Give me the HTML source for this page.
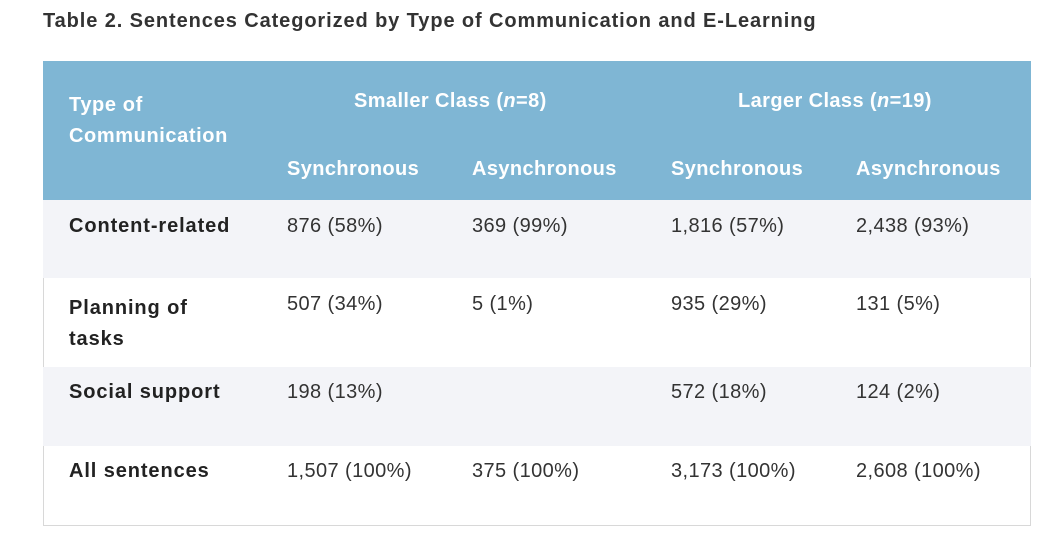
<!DOCTYPE html>
<html><head><meta charset="utf-8"><style>
body{margin:0;width:1060px;height:542px;background:#fff;font-family:"Liberation Sans",sans-serif;position:relative;overflow:hidden}
.a{position:absolute;white-space:nowrap;line-height:22px;font-size:20px;letter-spacing:0.4px}
.h{color:#fff;font-weight:bold}
.b{color:#333}
.l{color:#222;font-weight:bold;letter-spacing:0.9px}
.bg{position:absolute;left:43px;width:988px}
</style></head><body>
<div class="a" style="left:43px;top:10px;font-weight:bold;color:#333;font-size:20px;letter-spacing:0.9px">Table 2. Sentences Categorized by Type of Communication and E-Learning</div>
<div style="position:absolute;left:43px;top:61px;width:986px;height:463px;border:1px solid #d8d8d8"></div>
<div class="bg" style="top:61px;height:139px;background:#7fb6d4"></div>
<div class="bg" style="top:200px;height:78px;background:#f3f4f8"></div>
<div class="bg" style="top:367px;height:79px;background:#f3f4f8"></div>

<div class="a h" style="left:69px;top:90px;line-height:31px;letter-spacing:0.6px">Type of<br>Communication</div>
<div class="a h" style="left:354px;top:90px">Smaller Class (<i>n</i>=8)</div>
<div class="a h" style="left:738px;top:90px">Larger Class (<i>n</i>=19)</div>
<div class="a h" style="left:287px;top:158px">Synchronous</div>
<div class="a h" style="left:472px;top:158px">Asynchronous</div>
<div class="a h" style="left:671px;top:158px">Synchronous</div>
<div class="a h" style="left:856px;top:158px">Asynchronous</div>

<div class="a l" style="left:69px;top:215px">Content-related</div>
<div class="a b" style="left:287px;top:215px">876 (58%)</div>
<div class="a b" style="left:472px;top:215px">369 (99%)</div>
<div class="a b" style="left:671px;top:215px">1,816 (57%)</div>
<div class="a b" style="left:856px;top:215px">2,438 (93%)</div>

<div class="a l" style="left:69px;top:293px;line-height:31px">Planning of<br>tasks</div>
<div class="a b" style="left:287px;top:293px">507 (34%)</div>
<div class="a b" style="left:472px;top:293px">5 (1%)</div>
<div class="a b" style="left:671px;top:293px">935 (29%)</div>
<div class="a b" style="left:856px;top:293px">131 (5%)</div>

<div class="a l" style="left:69px;top:381px">Social support</div>
<div class="a b" style="left:287px;top:381px">198 (13%)</div>
<div class="a b" style="left:671px;top:381px">572 (18%)</div>
<div class="a b" style="left:856px;top:381px">124 (2%)</div>

<div class="a l" style="left:69px;top:460px">All sentences</div>
<div class="a b" style="left:287px;top:460px">1,507 (100%)</div>
<div class="a b" style="left:472px;top:460px">375 (100%)</div>
<div class="a b" style="left:671px;top:460px">3,173 (100%)</div>
<div class="a b" style="left:856px;top:460px">2,608 (100%)</div>
</body></html>
